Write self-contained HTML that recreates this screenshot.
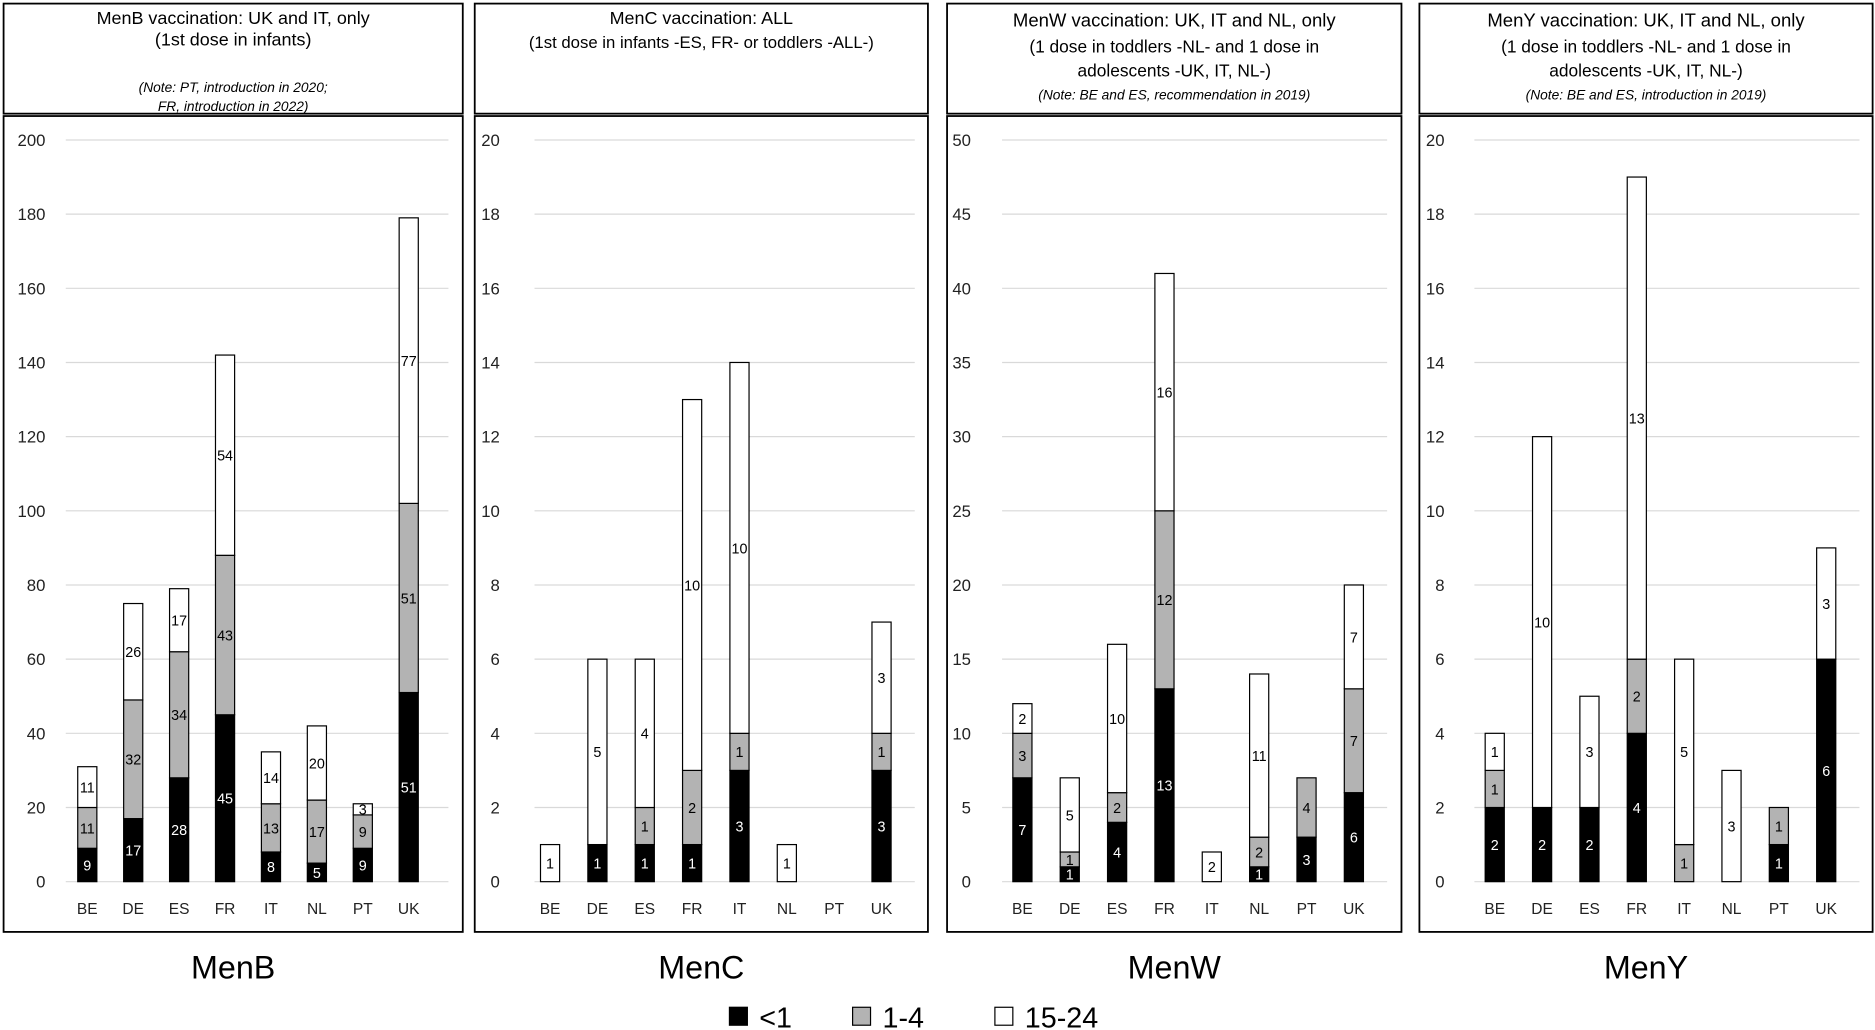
<!DOCTYPE html>
<html><head><meta charset="utf-8"><style>
html,body{margin:0;padding:0;background:#fff}
svg{display:block;font-family:"Liberation Sans",sans-serif}
</style></head><body>
<svg id="s" width="1875" height="1030" viewBox="0 0 1568 861" preserveAspectRatio="none" xmlns="http://www.w3.org/2000/svg"></svg>
<script>
const categories = ["BE","DE","ES","FR","IT","NL","PT","UK"];
const menBInfant = [9,17,28,45,8,5,9,51];
const menBToddler = [11,32,34,43,13,17,9,51];
const menBYoung = [11,26,17,54,14,20,3,77];
const menCInfant = [0,1,1,1,3,0,0,3];
const menCToddler = [0,0,1,2,1,0,0,1];
const menCYoung = [1,5,4,10,10,1,0,3];
const menWInfant = [7,1,4,13,0,1,3,6];
const menWToddler = [3,1,2,12,0,2,4,7];
const menWYoung = [2,5,10,16,2,11,0,7];
const menYInfant = [2,2,2,4,0,0,1,6];
const menYToddler = [1,0,0,2,1,0,1,0];
const menYYoung = [1,10,3,13,5,3,0,3];
const ticksB = [0,20,40,60,80,100,120,140,160,180,200];
const ticksC = [0,2,4,6,8,10,12,14,16,18,20];
const ticksW = [0,5,10,15,20,25,30,35,40,45,50];
const ticksY = [0,2,4,6,8,10,12,14,16,18,20];
const panelTitles = ["MenB","MenC","MenW","MenY"];
const legendLabels = ["<1","1-4","15-24"];

const NS="http://www.w3.org/2000/svg";
const svg=document.getElementById('s');
function mk(tag,attrs,parent,text){const e=document.createElementNS(NS,tag);for(const k in attrs)e.setAttribute(k,attrs[k]);if(text!==undefined)e.textContent=text;(parent||svg).appendChild(e);return e;}

const panels=[
 {x0:3,x1:387,lab:38,g0:55,g1:375,b0:73,step:38.4,ticks:ticksB,s:[menBInfant,menBToddler,menBYoung],
  head:[["MenB vaccination: UK and IT, only",20,15,false],["(1st dose in infants)",38,15,false],["(Note: PT, introduction in 2020;",77,11.5,true],["FR, introduction in 2022)",93,11.5,true]]},
 {x0:397,x1:776,lab:418,g0:447,g1:765,b0:460,step:39.6,ticks:ticksC,s:[menCInfant,menCToddler,menCYoung],
  head:[["MenC vaccination: ALL",20,15,false],["(1st dose in infants -ES, FR- or toddlers -ALL-)",40,14,false]]},
 {x0:792,x1:1172,lab:812,g0:838,g1:1160,b0:855,step:39.6,ticks:ticksW,s:[menWInfant,menWToddler,menWYoung],
  head:[["MenW vaccination:  UK, IT and NL, only",22,15.5,false],["(1 dose in toddlers -NL-  and 1 dose in",44,14.5,false],["adolescents  -UK, IT, NL-)",64,14.5,false],["(Note: BE and ES, recommendation in 2019)",83,11.5,true]]},
 {x0:1187,x1:1566,lab:1208,g0:1233,g1:1555,b0:1250,step:39.6,ticks:ticksY,s:[menYInfant,menYToddler,menYYoung],
  head:[["MenY vaccination:  UK, IT and NL, only",22,15.5,false],["(1 dose in toddlers -NL- and 1 dose in",44,14.5,false],["adolescents -UK, IT, NL-)",64,14.5,false],["(Note: BE and ES, introduction in 2019)",83,11.5,true]]}
];
const fills=["#000","#b3b3b3","#fff"];
const yBase=737, yTop=117;
panels.forEach((p,pi)=>{
  const g=mk('g',{});
  
  
  const hb=mk('rect',{x:p.x0,y:3,width:p.x1-p.x0,height:92,fill:'#fff',stroke:'#000','stroke-width':1.5},g);
  
  
  const cx=(p.x0+p.x1)/2;
  p.head.forEach(h=>{const t=mk('text',{x:cx,y:h[1],'text-anchor':'middle','font-size':h[2],'font-style':h[3]?'italic':'normal'},g,h[0]);
    });
  const cb=mk('rect',{x:p.x0,y:97,width:p.x1-p.x0,height:682,fill:'#fff',stroke:'#000','stroke-width':1.5},g);
  
  
  const max=p.ticks[p.ticks.length-1];
  const Y=v=>yBase-(v/max)*(yBase-yTop);
  p.ticks.forEach(t=>{
    const l=mk('line',{x1:p.g0,x2:p.g1,y1:Y(t),y2:Y(t),stroke:'#d9d9d9','stroke-width':1},g);
    
    const tx=mk('text',{x:p.lab,y:Y(t)+5,'text-anchor':'end','font-size':14,fill:'#222'},g,t);
    
  });
  const X=i=>p.b0+i*p.step;
  categories.forEach((c,i)=>{
    const tx=mk('text',{x:X(i),y:764,'text-anchor':'middle','font-size':13,fill:'#222'},g,c);
    
    let acc=0;
    p.s.forEach((ser,si)=>{
      const v=ser[i]; if(!v)return;
      const y0=Y(acc),y1=Y(acc+v);acc+=v;
      const r=mk('rect',{x:X(i)-8,y:y1,width:16,height:y0-y1,fill:fills[si],stroke:'#000','stroke-width':1},g);
      
      
      const vl=mk('text',{x:X(i),y:(y0+y1)/2+4.5,'text-anchor':'middle','font-size':12,fill:si===0?'#fff':'#000'},g,v);
      
    });
  });
  const pt=mk('text',{x:cx,y:818,'text-anchor':'middle','font-size':27},g,panelTitles[pi]);
  
});
const lx=[610,713,832];
legendLabels.forEach((l,i)=>{
  const r=mk('rect',{x:lx[i],y:842,width:15,height:15,fill:fills[i],stroke:'#000','stroke-width':1});
  
  const t=mk('text',{x:lx[i]+25,y:859,'font-size':24},null,l);
  
});
</script>
</body></html>
